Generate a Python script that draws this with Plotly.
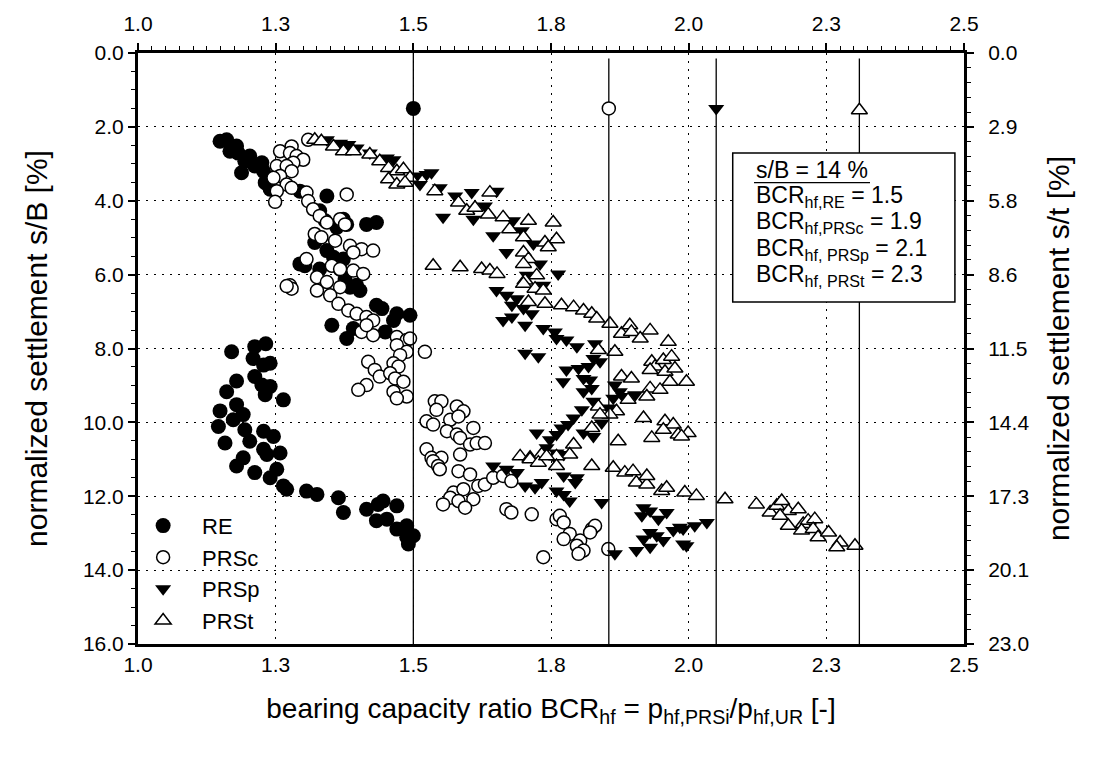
import plotly.graph_objects as go

# ---------------- data ----------------
re_pts = [(1.149,2.39),(1.161,2.35),(1.167,2.66),(1.179,2.52),(1.182,2.71),(1.194,2.93),(1.203,2.79),(1.188,3.24),
          (1.212,3.06),(1.225,2.97),(1.228,3.20),(1.231,3.51),(1.240,3.69),(1.294,3.74),(1.343,3.87),(1.373,4.50),
          (1.379,4.64),(1.415,4.64),(1.433,4.59),(1.330,4.27),(1.340,4.54),(1.361,4.72),(1.321,5.13),(1.343,5.35),
          (1.355,5.53),(1.373,5.58),(1.367,5.85),(1.294,5.71),(1.303,5.76),(1.330,5.85),(1.397,6.29),(1.376,6.12),
          (1.385,6.34),(1.403,6.43),(1.433,6.83),(1.443,6.92),(1.470,7.06),(1.494,7.10),(1.464,7.24),(1.352,7.37),
          (1.391,7.46),(1.379,7.73),(1.449,7.55),
          (1.170,8.09),(1.212,7.95),(1.232,7.87),(1.209,8.27),(1.228,8.45),(1.240,8.40),(1.212,8.76),(1.179,8.88),
          (1.225,8.99),(1.240,9.03),(1.231,9.25),(1.264,9.39),(1.161,9.17),(1.149,9.69),(1.179,9.52),(1.191,9.79),
          (1.146,10.11),(1.173,9.93),(1.194,10.20),(1.228,10.24),(1.246,10.38),(1.158,10.56),(1.203,10.51),
          (1.228,10.73),(1.258,10.83),(1.191,10.96),(1.179,11.18),(1.212,11.36),(1.252,11.27),(1.240,11.50),
          (1.264,11.72),(1.234,10.87),(1.270,11.81),(1.306,11.86),(1.325,11.95),(1.364,12.04),(1.373,12.44),
          (1.415,12.35),(1.436,12.22),(1.445,12.13),(1.470,12.26),(1.433,12.66),(1.452,12.62),(1.470,12.89),
          (1.488,12.80),(1.488,13.11),(1.491,13.29),(1.500,13.07)]

prsc_pts = [(1.309,2.35),(1.258,2.66),(1.279,2.53),(1.276,2.71),(1.288,2.79),(1.300,2.89),(1.282,2.97),(1.252,3.06),
            (1.270,3.06),(1.279,3.20),(1.258,3.33),(1.246,3.38),(1.270,3.56),(1.279,3.65),(1.252,3.74),(1.249,4.03),
            (1.306,3.78),(1.309,4.01),(1.318,4.23),(1.330,4.41),(1.343,4.59),(1.367,4.50),(1.376,4.64),(1.379,3.83),
            (1.321,4.90),(1.333,4.99),(1.358,5.08),(1.385,5.22),(1.406,5.31),(1.427,5.35),(1.391,5.40),(1.306,5.58),
            (1.352,5.76),(1.367,5.85),(1.391,5.89),(1.409,5.98),(1.325,6.07),(1.343,6.20),(1.276,6.29),(1.367,6.34),
            (1.279,6.38),(1.270,6.31),(1.325,6.43),(1.349,6.56),(1.364,6.79),(1.382,6.97),(1.397,7.06),(1.415,7.15),
            (1.427,7.24),(1.406,7.55),(1.427,7.64),(1.415,7.37),(1.470,7.69),(1.488,7.77),(1.494,7.73),(1.470,7.91),
            (1.488,8.09),(1.476,8.18),(1.418,8.36),(1.464,8.40),(1.473,8.49),(1.430,8.58),(1.439,8.76),(1.458,8.67),
            (1.467,8.81),(1.482,8.90),(1.415,8.99),(1.400,9.12),(1.464,9.17),(1.488,9.30),(1.470,9.35),
            (1.521,8.09),(1.539,9.43),(1.551,9.43),(1.542,9.66),(1.579,9.57),(1.591,9.70),(1.524,9.97),(1.536,10.06),
            (1.567,9.93),(1.582,9.84),(1.561,10.24),(1.579,10.33),(1.585,10.42),(1.609,10.15),(1.603,10.60),
            (1.615,10.56),(1.630,10.56),(1.524,10.73),(1.585,10.87),(1.533,10.96),(1.551,10.96),
            (1.536,11.05),(1.545,11.18),(1.548,11.27),(1.582,11.32),(1.603,11.41),(1.618,11.72),(1.630,11.68),
            (1.645,11.50),(1.663,11.45),(1.678,11.59),(1.573,11.90),(1.591,11.81),(1.567,12.04),(1.582,12.13),
            (1.609,12.08),(1.594,12.31),(1.554,12.22),(1.669,12.35),(1.678,12.44),(1.715,12.49),(1.760,12.62),
            (1.766,12.53),(1.773,12.71),(1.784,13.02),(1.773,13.16),(1.803,13.20),(1.797,13.34),(1.809,13.47),
            (1.800,13.56),(1.824,12.89),(1.830,12.80),(1.821,12.98),(1.854,13.43),(1.736,13.65)]

prsp_pts = [(1.343,2.35),(1.367,2.44),(1.382,2.48),(1.397,2.57),(1.421,2.71),(1.452,2.84),(1.464,2.89),(1.506,3.33),
            (1.524,3.29),(1.533,3.24),(1.512,3.56),(1.548,3.65),(1.576,3.87),(1.606,3.78),(1.651,3.74),(1.630,4.14),
            (1.554,4.45),(1.609,4.50),(1.681,4.54),(1.645,4.95),(1.697,4.81),(1.718,5.17),(1.669,5.40),(1.730,5.71),
            (1.763,5.98),(1.706,6.02),(1.651,6.43),(1.736,6.29),
            (1.669,6.56),(1.688,6.65),(1.679,6.83),(1.700,6.92),(1.663,7.24),(1.679,7.15),(1.703,7.37),(1.715,7.06),
            (1.736,7.46),(1.757,7.55),(1.760,7.73),(1.778,7.77),(1.797,7.95),(1.830,7.87),(1.703,8.13),(1.727,8.22),
            (1.827,8.27),(1.839,8.36),(1.778,8.58),(1.800,8.54),(1.818,8.49),(1.772,8.90),(1.809,8.81),(1.821,8.85),
            (1.809,9.17),(1.824,9.08),(1.827,9.43),(1.806,9.66),(1.791,9.88),(1.781,10.06),(1.769,10.15),(1.760,10.33),
            (1.748,10.47),(1.724,10.29),(1.809,10.29),(1.827,10.38),(1.842,10.02),(1.866,8.99),(1.875,9.17),
            (1.881,9.30),(1.863,9.35),(1.903,9.25),(1.854,9.61),(1.742,10.69),(1.760,10.83),
            (1.645,11.18),(1.669,11.27),(1.688,11.36),(1.703,11.72),(1.721,11.77),(1.733,11.63),(1.760,11.86),
            (1.773,11.45),(1.797,11.50),(1.794,11.63),(1.773,11.95),(1.784,12.13),(1.842,12.17),(1.773,10.87),
            (1.757,10.96),(1.918,12.31),(1.930,12.40),(1.945,12.62),(1.960,12.44),(1.915,12.53),(1.930,12.98),
            (1.942,13.07),(1.918,13.16),(1.954,13.20),(1.972,12.93),(1.984,12.84),(1.990,13.29),(1.905,13.47),
            (1.930,13.38),(1.866,13.56),(1.990,12.89),(2.011,12.80),(2.033,12.71),(1.996,13.34)]

prst_pts = [(1.321,2.35),(1.333,2.39),(1.355,2.53),(1.373,2.66),(1.391,2.66),(1.421,2.75),(1.439,2.93),(1.455,3.11),
            (1.470,3.20),(1.482,3.15),(1.455,3.42),(1.470,3.56),(1.494,3.38),(1.485,3.51),
            (1.539,3.74),(1.582,4.05),(1.597,4.27),(1.612,4.19),(1.636,4.37),(1.639,3.78),(1.663,4.45),(1.675,4.77),
            (1.709,4.54),(1.700,4.99),(1.754,4.59),(1.760,5.04),(1.739,5.13),(1.745,5.26),(1.700,5.40),(1.709,5.58),
            (1.700,5.71),(1.724,6.02),(1.703,6.16),(1.536,5.76),(1.585,5.80),(1.624,5.85),(1.639,5.89),(1.652,5.98),
            (1.700,6.25),(1.721,6.38),(1.736,6.43),(1.709,6.74),(1.739,6.79),(1.769,6.83),(1.791,6.88),(1.809,6.97),
            (1.824,7.06),(1.833,7.19),(1.857,7.33),(1.878,7.60),(1.893,7.37),(1.896,7.55),(1.912,7.73),(1.930,7.51),
            (1.963,7.82),(1.836,8.04),(1.866,8.09),(1.933,8.36),(1.939,8.49),(1.954,8.31),(1.969,8.22),(1.930,8.58),
            (1.957,8.63),(1.975,8.54),(1.966,8.90),(1.996,8.90),(1.878,8.76),(1.896,8.81),(1.930,9.08),(1.948,9.12),
            (1.924,9.30),(1.890,9.39),(1.836,9.57),(1.869,9.70),(1.857,9.79),(1.839,9.79),(1.918,9.88),(1.957,9.97),
            (1.972,10.06),(1.954,10.20),(1.981,10.33),(1.933,10.42),(1.872,10.51),(1.791,10.60),(1.824,10.15),
            (1.784,10.87),(1.760,10.92),(1.694,10.92),(1.712,10.96),(1.733,10.87),
            (1.999,10.29),(1.987,10.38),(1.993,11.90),(2.014,11.99),(2.066,12.08),(2.123,12.22),(2.148,12.44),
            (2.160,12.26),(2.169,12.13),(2.181,12.40),(2.199,12.35),(2.166,12.53),(2.181,12.80),(2.208,12.75),
            (2.217,12.66),(2.229,12.62),(2.205,12.93),(2.226,12.89),(2.235,13.11),(2.254,12.98),(2.275,13.25),
            (2.269,13.38),(2.302,13.34),
            (1.712,11.00),(1.727,11.09),(1.742,10.92),(1.760,11.18),(1.824,11.18),(1.863,11.23),(1.884,11.36),
            (1.899,11.32),(1.905,11.63),(1.924,11.68),(1.924,11.45),(1.951,11.86),(1.960,11.77)]

# BCR_hf reference lines (position, top of line, marker depth) in s/B units
bcr_names = ["RE", "PRSc", "PRSp", "PRSt"]
bcr_x = [1.5, 1.855, 2.05, 2.31]
bcr_line_top = [0.0, 0.15, 0.15, 0.15]
bcr_marker_y = [1.5, 1.5, 1.5, 1.55]
bcr_text = ["BCR<sub>hf,RE</sub> = 1.5", "BCR<sub>hf,PRSc</sub> = 1.9",
            "BCR<sub>hf, PRSp</sub> = 2.1", "BCR<sub>hf, PRSt</sub> = 2.3"]

x_ticks = [1.0, 1.25, 1.5, 1.75, 2.0, 2.25, 2.5]
x_ticktext = ["1.0", "1.3", "1.5", "1.8", "2.0", "2.3", "2.5"]
y_ticks = [0, 2, 4, 6, 8, 10, 12, 14, 16]
y_ticktext = ["0.0", "2.0", "4.0", "6.0", "8.0", "10.0", "12.0", "14.0", "16.0"]
st_factor = 23.0 / 16.0   # s/t = s/B * 23/16
y2_ticktext = ["0.0", "2.9", "5.8", "8.6", "11.5", "14.4", "17.3", "20.1", "23.0"]

FONT = "Liberation Sans, Arial, sans-serif"
TICKFONT = dict(family=FONT, size=21, color="black")
XTITLEFONT = dict(family=FONT, size=28, color="black")
YTITLEFONT = dict(family=FONT, size=30, color="black")

styles = {
    "RE":   dict(symbol="circle", size=15, color="black", line=dict(width=0)),
    "PRSc": dict(symbol="circle", size=13, color="white", line=dict(color="black", width=1.5)),
    "PRSp": dict(symbol="triangle-down", size=14, color="black", line=dict(width=0)),
    "PRSt": dict(symbol="triangle-up", size=14, color="white", line=dict(color="black", width=1.5)),
}

fig = go.Figure()

series = [("RE", re_pts), ("PRSc", prsc_pts), ("PRSp", prsp_pts), ("PRSt", prst_pts)]
for name, pts in series:
    fig.add_trace(go.Scatter(x=[p[0] for p in pts], y=[p[1] for p in pts], mode="markers",
                             name=name, marker=styles[name]))

# vertical BCR lines, drawn on the top / right (s/t) axes
for name, bx, top in zip(bcr_names, bcr_x, bcr_line_top):
    fig.add_trace(go.Scatter(x=[bx, bx], y=[top * st_factor, 16 * st_factor], mode="lines",
                             xaxis="x2", yaxis="y2",
                             line=dict(color="black", width=1.3),
                             showlegend=False, hoverinfo="skip"))
for name, bx, my in zip(bcr_names, bcr_x, bcr_marker_y):
    fig.add_trace(go.Scatter(x=[bx], y=[my * st_factor], mode="markers", marker=styles[name],
                             xaxis="x2", yaxis="y2", showlegend=False, hoverinfo="skip"))

axis_common = dict(showline=True, linecolor="black", linewidth=3,
                   tickcolor="black", tickfont=TICKFONT, zeroline=False)
GRID = dict(showgrid=True, gridcolor="black", griddash="2px,6px", gridwidth=1)

fig.update_layout(
    width=1100, height=758,
    margin=dict(l=138, r=136, t=50, b=114),
    plot_bgcolor="white", paper_bgcolor="white",
    font=dict(family=FONT, color="black"),
    xaxis=dict(range=[1.0, 2.5], tickvals=x_ticks, ticktext=x_ticktext, ticks="",
               title=dict(text="bearing capacity ratio BCR<sub>hf</sub> = p<sub>hf,PRSi</sub>/p<sub>hf,UR</sub> [-]",
                          font=XTITLEFONT, standoff=24),
               **GRID, **axis_common),
    xaxis2=dict(range=[1.0, 2.5], tickvals=x_ticks, ticktext=x_ticktext, overlaying="x", side="top",
                anchor="y2", showgrid=False, ticks="outside", ticklen=7, tickwidth=1.5,
                ticklabelstandoff=4,
                minor=dict(dtick=0.025, tick0=1.0, ticks="outside", ticklen=4, tickwidth=1.2,
                           tickcolor="black", showgrid=False),
                **axis_common),
    yaxis=dict(range=[16, 0], tickvals=y_ticks, ticktext=y_ticktext, ticks="outside",
               ticklen=7, tickwidth=1.5,
               minor=dict(dtick=0.5, tick0=0, ticks="outside", ticklen=4, tickwidth=1.2,
                          tickcolor="black", showgrid=False),
               title=dict(text="normalized settlement s/B [%]", font=YTITLEFONT, standoff=27),
               **GRID, **axis_common),
    yaxis2=dict(range=[16 * st_factor, 0], tickvals=[v * st_factor for v in y_ticks], ticktext=y2_ticktext,
                overlaying="y", side="right", anchor="x2", showgrid=False,
                ticks="outside", ticklen=7, tickwidth=1.5, ticklabelstandoff=10,
                minor=dict(dtick=0.575, tick0=0, ticks="outside", ticklen=4, tickwidth=1.2,
                           tickcolor="black"),
                title=dict(text="normalized settlement s/t [%]", font=YTITLEFONT, standoff=20),
                **axis_common),
    legend=dict(x=-0.0168, y=0.2355, xanchor="left", yanchor="top", bgcolor="rgba(0,0,0,0)",
                font=dict(family=FONT, size=22, color="black"), tracegroupgap=0, itemwidth=68),
    showlegend=True,
)

# text box
fig.add_shape(type="rect", xref="paper", yref="paper", x0=0.720, x1=0.989, y0=0.5786, y1=0.831,
              line=dict(color="black", width=1.5), fillcolor="white", layer="above")
box_lines = ["s/B = 14 %"] + bcr_text
box_y = [0.8024, 0.7576, 0.7127, 0.6678, 0.6229]
for t, yy in zip(box_lines, box_y):
    fig.add_annotation(xref="paper", yref="paper", x=0.7458, y=yy, xanchor="left", yanchor="middle",
                       text=t, showarrow=False, font=dict(family=FONT, size=23, color="black"))
fig.add_shape(type="line", xref="paper", yref="paper", x0=0.7458, x1=0.8862, y0=0.7805, y1=0.7805,
              line=dict(color="black", width=1.3), layer="above")

fig.write_html("out.html")
